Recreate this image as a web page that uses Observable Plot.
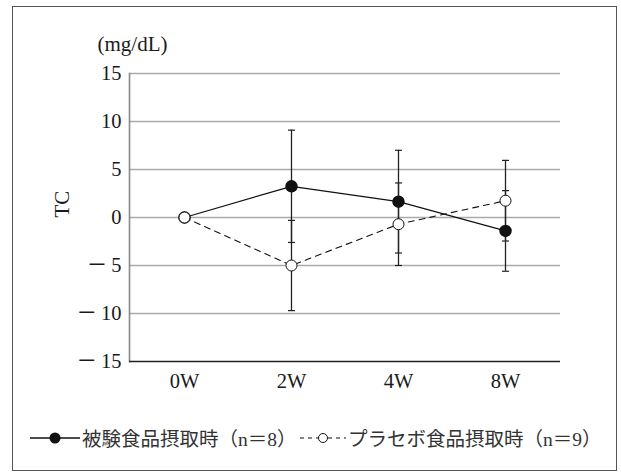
<!DOCTYPE html>
<html><head><meta charset="utf-8">
<script src="https://cdn.jsdelivr.net/npm/d3@7"></script>
<script src="https://cdn.jsdelivr.net/npm/@observablehq/plot@0.6"></script>
<style>
body{margin:0;background:#fff;font-family:"Liberation Serif","DejaVu Serif","Noto Sans CJK JP",serif;}
#wrap{position:relative;width:621px;height:476px;overflow:hidden;}
#border{position:absolute;left:12px;top:6px;width:603px;height:463px;border:1.5px solid #555;box-sizing:content-box;}
#chart{position:absolute;left:0;top:0;}
#legend{position:absolute;left:0;top:423px;width:621px;height:28px;font-size:19.5px;color:#333;}
#legend .item{position:absolute;top:0;display:flex;align-items:center;white-space:nowrap;}
</style></head>
<body><div id="wrap"><div id="border"></div><div id="chart"></div>
<div id="legend">
 <div class="item" style="left:30px"><svg width="52" height="28"><line x1="0" x2="50" y1="14" y2="14" stroke="#111" stroke-width="1.5"/><circle cx="25" cy="14" r="5.5" fill="#111"/></svg><span id="l1"></span></div>
 <div class="item" style="left:298px"><svg width="50" height="28"><line x1="2" x2="20" y1="14" y2="14" stroke="#111" stroke-width="1.2" stroke-dasharray="4,4"/><line x1="30" x2="48" y1="14" y2="14" stroke="#111" stroke-width="1.2" stroke-dasharray="4,4"/><circle cx="25" cy="14" r="4.5" fill="#fff" stroke="#111" stroke-width="1"/></svg><span id="l2"></span></div>
</div></div>
<script>
const weeks = ["0W","2W","4W","8W"];
const seriesNames = ["被験食品摂取時（n＝8）","プラセボ食品摂取時（n＝9）"];
const testMean = [0, 3.25, 1.65, -1.4];
const testLow = [null, -2.6, -3.7, -5.6];
const testHigh = [null, 9.1, 7.0, 2.8];
const placeboMean = [0, -5.0, -0.7, 1.75];
const placeboLow = [null, -9.7, -5.0, -2.45];
const placeboHigh = [null, -0.3, 3.6, 5.95];
const yTicks = [-15,-10,-5,0,5,10,15];
const unitLabel = "(mg/dL)";
const yLabel = "TC";

document.getElementById("l1").textContent = seriesNames[0];
document.getElementById("l2").textContent = seriesNames[1];

const test = weeks.map((w,i)=>({w, m:testMean[i], lo:testLow[i], hi:testHigh[i]}));
const placebo = weeks.map((w,i)=>({w, m:placeboMean[i], lo:placeboLow[i], hi:placeboHigh[i]}));
const bars = [...test, ...placebo].filter(d=>d.lo!=null);
const caps = bars.flatMap(d=>[{w:d.w,v:d.lo},{w:d.w,v:d.hi}]);
const fmt = d => d < 0 ? "－\u2009" + (-d) : String(d);
const capSymbol = {draw(ctx){ ctx.moveTo(-3.5,0); ctx.lineTo(3.5,0); }};

const plot = Plot.plot({
  width: 621, height: 400,
  marginLeft: 129, marginRight: 61, marginTop: 73, marginBottom: 39,
  style: {fontFamily: '"Liberation Serif","DejaVu Serif","Noto Sans CJK JP",serif', fontSize: "20px", color: "#1a1a1a", background: "transparent"},
  x: {type: "point", domain: weeks, padding: 0.5, label: null},
  y: {domain: [-15, 15], label: null},
  marks: [
    Plot.ruleY(yTicks.filter(t=>t>-15), {stroke: "#aaa", strokeWidth: 1.3}),
    Plot.frame({anchor: "left", stroke: "#888", strokeWidth: 1.6}),
    Plot.ruleY([-15], {stroke: "#222", strokeWidth: 1.5}),
    Plot.axisY({ticks: yTicks, tickFormat: fmt, tickSize: 0, tickPadding: 8, fontSize: 20.5}),
    Plot.axisX({tickSize: 0, tickPadding: 12, fontSize: 20.5}),
    Plot.text([unitLabel], {frameAnchor: "top-left", dx: -32, dy: -37, textAnchor: "start", fontSize: 21}),
    Plot.text([yLabel], {frameAnchor: "left", dx: -67, rotate: -90, fontSize: 21}),
    Plot.ruleX(bars, {x: "w", y1: "lo", y2: "hi", stroke: "#222", strokeWidth: 1.3}),
    Plot.dot(caps, {x: "w", y: "v", symbol: capSymbol, fill: "none", stroke: "#222", strokeWidth: 1.2}),
    Plot.line(placebo, {x: "w", y: "m", stroke: "#111", strokeWidth: 1.1, strokeDasharray: "6,5"}),
    Plot.line(test, {x: "w", y: "m", stroke: "#111", strokeWidth: 1.2}),
    Plot.dot(test, {x: "w", y: "m", r: 5.5, fill: "#111", stroke: "#111"}),
    Plot.dot(placebo, {x: "w", y: "m", r: 5.5, fill: "#fff", stroke: "#111", strokeWidth: 1})
  ]
});
document.getElementById("chart").appendChild(plot);
</script></body></html>
